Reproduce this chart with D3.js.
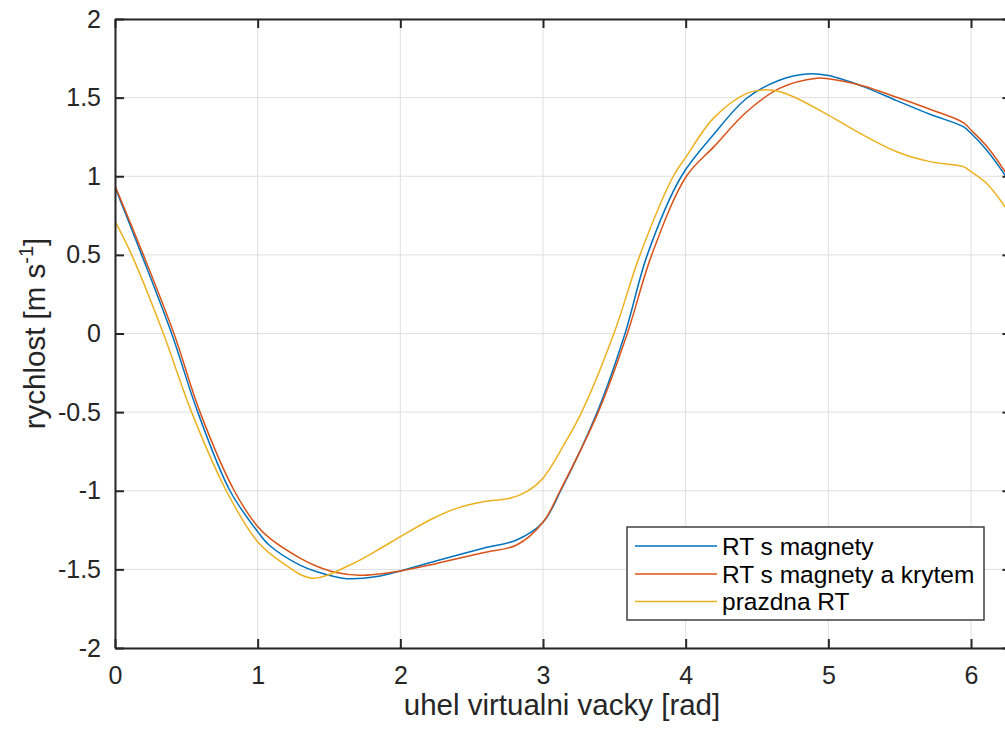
<!DOCTYPE html>
<html>
<head>
<meta charset="utf-8">
<script src="https://cdn.jsdelivr.net/npm/d3@7"></script>
<style>
  html, body { margin: 0; padding: 0; background: #fff; overflow: hidden; }
  svg { display: block; font-family: "Liberation Sans", Arial, Helvetica, sans-serif; }
</style>
</head>
<body>
<svg id="chart" width="1005" height="733"></svg>
<script>
// ---- data ----
const seriesNames = ["RT s magnety", "RT s magnety a krytem", "prazdna RT"];
const seriesColors = ["#0072BD", "#D95319", "#EDB120"];

const blueX = [0, 0.187, 0.397, 0.58, 0.806, 1.0, 1.086, 1.3, 1.414, 1.624, 1.834, 2.0, 2.254, 2.581, 2.815, 3.0, 3.124, 3.38, 3.575, 3.731, 3.97, 4.2, 4.428, 4.661, 4.848, 5.0, 5.245, 5.479, 5.712, 5.946, 6.0, 6.109, 6.238, 6.2832];
const blueY = [0.93, 0.5, 0, -0.5, -1.0, -1.26, -1.35, -1.475, -1.515, -1.559, -1.546, -1.51, -1.445, -1.366, -1.313, -1.2, -1.0, -0.5, 0, 0.5, 1.0, 1.27, 1.496, 1.612, 1.65, 1.64, 1.57, 1.481, 1.394, 1.315, 1.273, 1.167, 1.008, 0.945];

const orangeX = [0, 0.199, 0.413, 0.596, 0.836, 1.0, 1.086, 1.3, 1.414, 1.55, 1.717, 2.0, 2.254, 2.581, 2.815, 3.0, 3.12, 3.387, 3.591, 3.762, 4.005, 4.2, 4.428, 4.661, 4.918, 5.0, 5.245, 5.479, 5.712, 5.946, 6.0, 6.109, 6.238, 6.2832];
const orangeY = [0.94, 0.5, 0, -0.5, -1.0, -1.228, -1.303, -1.43, -1.48, -1.52, -1.538, -1.51, -1.462, -1.394, -1.345, -1.2, -1.0, -0.5, 0, 0.5, 1.0, 1.19, 1.41, 1.56, 1.623, 1.62, 1.574, 1.502, 1.426, 1.341, 1.294, 1.192, 1.029, 0.96];

const yellowX = [0, 0.117, 0.339, 0.537, 0.78, 1.0, 1.18, 1.38, 1.647, 1.88, 2.0, 2.231, 2.395, 2.581, 2.769, 2.885, 3.0, 3.166, 3.271, 3.497, 3.68, 3.913, 4.0, 4.194, 4.428, 4.544, 4.661, 4.778, 5.0, 5.245, 5.479, 5.712, 5.946, 6.0, 6.109, 6.238, 6.2832];
const yellowY = [0.715, 0.5, 0, -0.5, -1.0, -1.324, -1.462, -1.556, -1.472, -1.356, -1.292, -1.175, -1.112, -1.07, -1.048, -1.006, -0.92, -0.677, -0.5, 0, 0.5, 1.0, 1.12, 1.368, 1.527, 1.549, 1.538, 1.496, 1.389, 1.262, 1.156, 1.093, 1.061, 1.029, 0.955, 0.806, 0.74];

const xTicks = [0, 1, 2, 3, 4, 5, 6];
const xTickLabels = ["0", "1", "2", "3", "4", "5", "6"];
const yTicks = [-2, -1.5, -1, -0.5, 0, 0.5, 1, 1.5, 2];
const yTickLabels = ["-2", "-1.5", "-1", "-0.5", "0", "0.5", "1", "1.5", "2"];
const xLabel = "uhel virtualni vacky [rad]";

// ---- layout ----
const svg = d3.select("#chart");
const L = 115, T = 19, B = 648;
const xMax = 2 * Math.PI;
const x = d3.scaleLinear().domain([0, xMax]).range([L, L + 142.67 * xMax]);
const y = d3.scaleLinear().domain([-2, 2]).range([B, T]);
const R = x(xMax);
const axisColor = "#262626";
const tickFont = 25;
const labelFont = 29.5;
const legendFont = 24.5;

svg.append("defs").append("clipPath").attr("id", "clip")
  .append("rect").attr("x", L).attr("y", T).attr("width", R - L).attr("height", B - T);

// grid
const grid = svg.append("g");
xTicks.forEach(t => {
  grid.append("line").attr("x1", x(t)).attr("x2", x(t)).attr("y1", T).attr("y2", B)
    .attr("stroke", "#dfdfdf").attr("stroke-width", 1);
});
yTicks.forEach(t => {
  grid.append("line").attr("x1", L).attr("x2", R).attr("y1", y(t)).attr("y2", y(t))
    .attr("stroke", "#dfdfdf").attr("stroke-width", 1);
});

// lines
const seriesData = [
  d3.zip(blueX, blueY),
  d3.zip(orangeX, orangeY),
  d3.zip(yellowX, yellowY)
];
const line = d3.line().x(d => x(d[0])).y(d => y(d[1])).curve(d3.curveCatmullRom.alpha(0.5));
const lg = svg.append("g").attr("clip-path", "url(#clip)");
seriesData.forEach((data, i) => {
  lg.append("path").datum(data).attr("d", line)
    .attr("fill", "none").attr("stroke", seriesColors[i]).attr("stroke-width", 1.5);
});

// axes (box with inward ticks)
const tickLen = 9;
const xAxisB = d3.axisBottom(x).tickValues(xTicks).tickFormat((d, i) => xTickLabels[i])
  .tickSizeInner(-tickLen).tickSizeOuter(0).tickPadding(18);
const gxb = svg.append("g").attr("transform", `translate(0,${B})`).call(xAxisB);
const xAxisT = d3.axisTop(x).tickValues(xTicks).tickFormat("")
  .tickSizeInner(-tickLen).tickSizeOuter(0);
const gxt = svg.append("g").attr("transform", `translate(0,${T})`).call(xAxisT);
const yAxisL = d3.axisLeft(y).tickValues(yTicks).tickFormat((d, i) => yTickLabels[i])
  .tickSizeInner(-tickLen).tickSizeOuter(0).tickPadding(14);
const gyl = svg.append("g").attr("transform", `translate(${L},0)`).call(yAxisL);
const yAxisR = d3.axisRight(y).tickValues(yTicks).tickFormat("")
  .tickSizeInner(-tickLen).tickSizeOuter(0);
const gyr = svg.append("g").attr("transform", `translate(${R},0)`).call(yAxisR);

[gxb, gxt, gyl, gyr].forEach(g => {
  g.select(".domain").attr("stroke", axisColor).attr("stroke-width", 2);
  g.selectAll(".tick line").attr("stroke", axisColor).attr("stroke-width", 2);
  g.selectAll(".tick text").attr("fill", axisColor)
    .style("font-size", tickFont + "px").style("font-family", "'Liberation Sans', Arial, sans-serif");
});

// axis labels
svg.append("text").attr("x", 562).attr("y", 715)
  .attr("text-anchor", "middle").attr("fill", axisColor)
  .style("font-size", labelFont + "px").text(xLabel);

const yl = svg.append("text")
  .attr("transform", `translate(45,${(T + B) / 2}) rotate(-90)`)
  .attr("text-anchor", "middle").attr("fill", axisColor)
  .style("font-size", labelFont + "px");
yl.append("tspan").text("rychlost [m s");
yl.append("tspan").attr("dy", -12).style("font-size", "20px").text("-1");
yl.append("tspan").attr("dy", 12).text("]");

// legend
const lgx = 627, lgy = 527, lgw = 357, lgh = 93;
const leg = svg.append("g");
leg.append("rect").attr("x", lgx).attr("y", lgy).attr("width", lgw).attr("height", lgh)
  .attr("fill", "#fff").attr("stroke", "#404040").attr("stroke-width", 1.5);
const rowY = [546, 574, 601.5];
seriesNames.forEach((name, i) => {
  leg.append("line").attr("x1", 635).attr("x2", 717).attr("y1", rowY[i]).attr("y2", rowY[i])
    .attr("stroke", seriesColors[i]).attr("stroke-width", 1.5);
  leg.append("text").attr("x", 722).attr("y", rowY[i]).attr("dy", "0.35em")
    .attr("fill", "#000").style("font-size", legendFont + "px").text(name);
});
</script>
</body>
</html>
